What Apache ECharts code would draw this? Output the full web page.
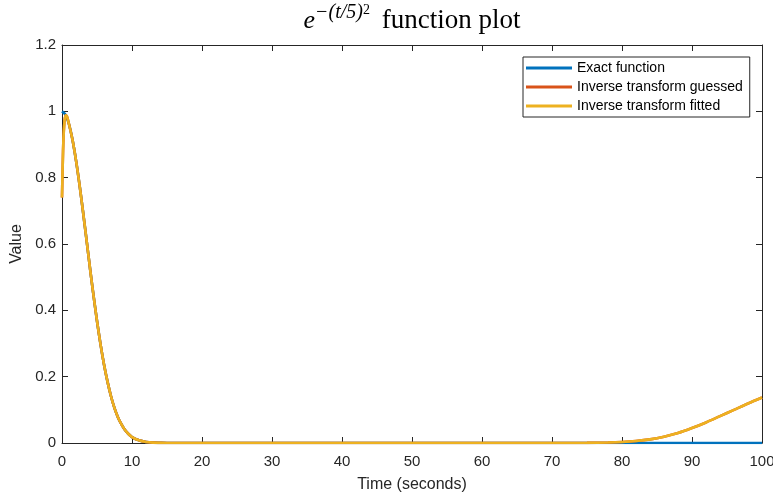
<!DOCTYPE html>
<html><head><meta charset="utf-8">
<script src="https://cdn.jsdelivr.net/npm/echarts@6/dist/echarts.min.js"></script>
<style>html,body{margin:0;padding:0;background:#fff}#c{width:773px;height:498px}</style>
</head><body><div id="c"></div>
<script>
// Data
const exactT = [0,0.5,1,1.5,2,2.5,3,3.5,4,4.5,5,5.5,6,6.5,7,7.5,8,8.5,9,9.5,10,11,12,13,14,15,20,30,40,50,60,70,80,90,100];
const exactV = [1,0.990,0.961,0.914,0.852,0.779,0.698,0.613,0.527,0.445,0.368,0.298,0.237,0.185,0.141,0.105,0.077,0.056,0.039,0.027,0.018,0.008,0.003,0.001,0.0004,0,0,0,0,0,0,0,0,0,0];
const fitT = [0,0.15,0.3,0.5,0.7,1,1.5,2,2.5,3,3.5,4,4.5,5,5.5,6,6.5,7,7.5,8,8.5,9,9.5,10,11,12,13,14,15,20,30,40,50,60,70,75,78,80,82,84,86,88,90,92,94,96,98,100];
const fitV = [0.74,0.88,0.955,0.988,0.985,0.961,0.914,0.852,0.779,0.698,0.613,0.527,0.445,0.368,0.298,0.237,0.185,0.141,0.105,0.077,0.056,0.039,0.027,0.018,0.008,0.003,0.001,0.0004,0,0,0,0,0,0,0,0.0005,0.0015,0.003,0.006,0.011,0.019,0.030,0.045,0.062,0.081,0.100,0.119,0.137];
const guessT = fitT;
const guessV = fitV;
const seriesNames = ['Exact function','Inverse transform guessed','Inverse transform fitted'];
const colors = ['#0072BD','#D95319','#EDB120'];
const xTicks = [0,10,20,30,40,50,60,70,80,90,100];
const yTicks = [0,0.2,0.4,0.6,0.8,1,1.2];

const zip = (a,b)=>a.map((t,i)=>[t,b[i]]);
const chart = echarts.init(document.getElementById('c'));
const axisCol = '#262626';
const lbl = {color:'#262626', fontFamily:'Liberation Sans, Arial', fontSize:15};
const serif = 'Liberation Serif, serif';
chart.setOption({
  animation:false,
  backgroundColor:'#fff',
  title:{
    text:'{e|e}{s|−(t/5)}{s2|2}{t| function plot}',
    left:407, top:-2, textAlign:'center',
    textStyle:{fontWeight:'normal', rich:{
      e:{fontFamily:serif, fontStyle:'italic', fontWeight:'normal', fontSize:26, color:'#000', verticalAlign:'bottom'},
      s:{fontFamily:serif, fontStyle:'italic', fontWeight:'normal', fontSize:20, color:'#000', verticalAlign:'top', padding:[0,0,10,0]},
      s2:{fontFamily:serif, fontWeight:'normal', fontSize:14, color:'#000', verticalAlign:'top', padding:[0,5,17,0]},
      t:{fontFamily:serif, fontWeight:'normal', fontSize:27, color:'#000', verticalAlign:'bottom'}
    }}
  },
  grid:{left:62, right:11, top:45, bottom:55, show:false, containLabel:false, outerBoundsMode:'none'},
  legend:{
    orient:'vertical', left:523, top:57, width:227,
    data:seriesNames, icon:'rect', itemWidth:46, itemHeight:3, itemGap:5,
    padding:[4,7,4,3],
    borderColor:'#262626', borderWidth:1, backgroundColor:'#fff',
    textStyle:{color:'#000', fontFamily:'Liberation Sans, Arial', fontSize:14, padding:[0,0,0,0]}
  },
  xAxis:[{
    type:'value', min:0, max:100, interval:10,
    name:'Time (seconds)', nameLocation:'middle', nameGap:34,
    nameTextStyle:{color:'#262626', fontFamily:'Liberation Sans, Arial', fontSize:16},
    axisLine:{show:true, onZero:false, lineStyle:{color:axisCol}},
    axisTick:{inside:true, length:6, lineStyle:{color:axisCol}},
    axisLabel:Object.assign({margin:11, hideOverlap:false}, lbl),
    splitLine:{show:false}
  },{
    type:'value', min:0, max:100, interval:10, position:'top',
    axisLine:{show:true, onZero:false, lineStyle:{color:axisCol}},
    axisTick:{inside:true, length:6, lineStyle:{color:axisCol}},
    axisLabel:{show:false}, splitLine:{show:false}
  }],
  yAxis:[{
    type:'value', min:0, max:1.2, interval:0.2,
    name:'Value', nameLocation:'middle', nameGap:29, nameRotate:90,
    nameTextStyle:{color:'#262626', fontFamily:'Liberation Sans, Arial', fontSize:16},
    axisLine:{show:true, onZero:false, lineStyle:{color:axisCol}},
    axisTick:{inside:true, length:6, lineStyle:{color:axisCol}},
    axisLabel:Object.assign({margin:6, formatter:v=>String(+v.toFixed(1))}, lbl),
    splitLine:{show:false}
  },{
    type:'value', min:0, max:1.2, interval:0.2, position:'right',
    axisLine:{show:true, onZero:false, lineStyle:{color:axisCol}},
    axisTick:{inside:true, length:6, lineStyle:{color:axisCol}},
    axisLabel:{show:false}, splitLine:{show:false}
  }],
  series:[
    {name:seriesNames[0], type:'line', data:zip(exactT,exactV), showSymbol:false, symbol:'none', smooth:0.3, lineStyle:{width:2.6, color:colors[0]}, itemStyle:{color:colors[0]}, clip:true},
    {name:seriesNames[1], type:'line', data:zip(guessT,guessV), showSymbol:false, symbol:'none', smooth:0.3, lineStyle:{width:2.6, color:colors[1]}, itemStyle:{color:colors[1]}, clip:true},
    {name:seriesNames[2], type:'line', data:zip(fitT,fitV), showSymbol:false, symbol:'none', smooth:0.3, lineStyle:{width:2.6, color:colors[2]}, itemStyle:{color:colors[2]}, clip:true}
  ]
});
</script></body></html>
